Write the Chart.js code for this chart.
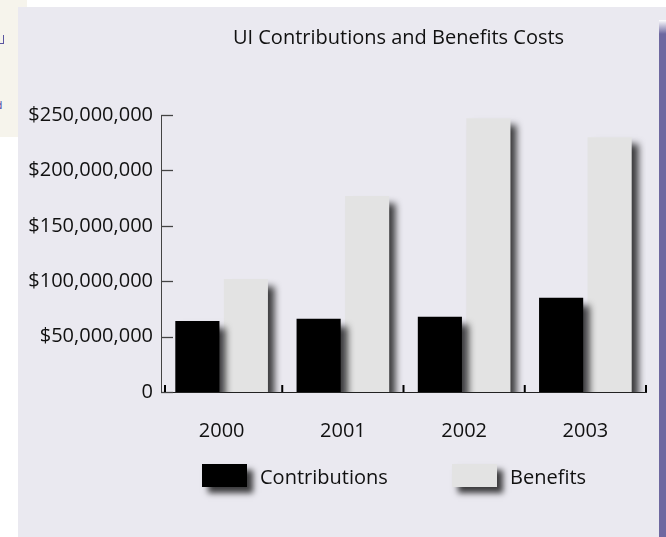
<!DOCTYPE html>
<html>
<head>
<meta charset="utf-8">
<script src="https://cdn.jsdelivr.net/npm/chart.js@4"></script>
<style>
  html, body { margin: 0; padding: 0; background: #ffffff; width: 666px; height: 537px; overflow: hidden; position: relative; }
  #cream { position: absolute; left: 0; top: 0; width: 27px; height: 137px; background: #f6f4ec; }
  #mark1 { position: absolute; left: -1px; top: 35px; width: 4px; height: 8px; border-right: 1px solid #5a55a0; border-bottom: 1px solid #5a55a0; }
  #mark2 { position: absolute; left: -4px; top: 100px; font: 10px "DejaVu Sans", sans-serif; color: #4a46a8; }
  #panel { position: absolute; left: 18px; top: 7px; width: 648px; height: 530px; background: #eae9f0; }
  #strip { position: absolute; left: 659px; top: 20px; width: 7px; height: 517px; background: linear-gradient(#ffffff, #6e68a0 14px, #6e68a0); }
  #wrap { position: absolute; left: 18px; top: 7px; width: 641px; height: 530px; }
</style>
</head>
<body>
<div id="cream"></div>
<div id="mark1"></div>
<div id="mark2">d</div>
<div id="panel"></div>
<div id="strip"></div>
<div id="wrap"><canvas id="chart" width="641" height="530"></canvas></div>
<script>
(function() {
  'use strict';

  // Data
  const years = ['2000', '2001', '2002', '2003'];
  const contributions = [64000000, 66000000, 68000000, 85000000];
  const benefits = [102000000, 177000000, 247000000, 230000000];
  const yTicks = [0, 50000000, 100000000, 150000000, 200000000, 250000000];
  const chartTitle = 'UI Contributions and Benefits Costs';

  const FONT = '"Open Sans", "Noto Sans", sans-serif';
  const TEXT = '#111111';

  /**
   * Drop shadow under every bar, plus inward ticks drawn before the bars
   */
  const shadowPlugin = {
    id: 'barShadow',
    beforeDatasetsDraw(chart) {
      const ctx = chart.ctx;
      const x = chart.scales.x;
      const y = chart.scales.y;
      const area = chart.chartArea;

      // y ticks pointing into the plot
      ctx.save();
      ctx.strokeStyle = '#444444';
      ctx.lineWidth = 1.3;
      yTicks.forEach(function(v) {
        const py = Math.round(y.getPixelForValue(v)) + 0.5;
        ctx.beginPath();
        ctx.moveTo(area.left, py);
        ctx.lineTo(area.left + 12, py);
        ctx.stroke();
      });

      // small upward ticks at category boundaries
      ctx.strokeStyle = '#000000';
      ctx.lineWidth = 2;
      for (let i = 0; i <= years.length; i++) {
        let px;
        if (i === 0) px = area.left + 4;
        else if (i === years.length) px = area.right;
        else px = (x.getPixelForValue(i - 1) + x.getPixelForValue(i)) / 2;
        ctx.beginPath();
        ctx.moveTo(px, area.bottom);
        ctx.lineTo(px, area.bottom - 7);
        ctx.stroke();
      }
      ctx.restore();

      ctx.save();
      ctx.shadowColor = 'rgba(0, 0, 0, 0.75)';
      ctx.shadowOffsetX = 7;
      ctx.shadowOffsetY = 7;
      ctx.shadowBlur = 7;
    },
    afterDatasetsDraw(chart) {
      chart.ctx.restore();
    }
  };

  /**
   * Title centred over the plot, legend below the axis with shadowed swatches
   */
  const textPlugin = {
    id: 'titleLegend',
    afterDraw(chart) {
      const ctx = chart.ctx;
      const area = chart.chartArea;
      ctx.save();
      ctx.fillStyle = TEXT;
      ctx.font = '20px ' + FONT;
      ctx.textAlign = 'center';
      ctx.textBaseline = 'middle';
      ctx.fillText(chartTitle, (area.left + area.right) / 2 - 5, 31);

      const top = area.bottom + 72;
      const offsets = [41, 291];
      chart.data.datasets.forEach(function(ds, i) {
        const bx = area.left + offsets[i];
        ctx.save();
        ctx.shadowColor = 'rgba(0, 0, 0, 0.75)';
        ctx.shadowOffsetX = 6;
        ctx.shadowOffsetY = 6;
        ctx.shadowBlur = 6;
        ctx.fillStyle = ds.backgroundColor;
        ctx.fillRect(bx, top, 45, 23);
        ctx.restore();
        ctx.fillStyle = TEXT;
        ctx.font = '20px ' + FONT;
        ctx.textBaseline = 'middle';
        ctx.textAlign = 'left';
        ctx.fillText(ds.label, bx + 58, top + 14);
      });
      ctx.restore();
    }
  };

  function initializeChart() {
    const ctx = document.getElementById('chart');

    new Chart(ctx, {
      type: 'bar',
      data: {
        labels: years,
        datasets: [
          {
            label: 'Contributions',
            data: contributions,
            backgroundColor: '#000000',
            categoryPercentage: 0.8,
            barPercentage: 0.91
          },
          {
            label: 'Benefits',
            data: benefits,
            backgroundColor: '#e3e3e3',
            categoryPercentage: 0.8,
            barPercentage: 0.91
          }
        ]
      },
      options: {
        responsive: false,
        animation: false,
        layout: { padding: { left: 0, right: 13, top: 108, bottom: 0 } },
        plugins: {
          legend: { display: false },
          tooltip: { enabled: false },
          title: { display: false }
        },
        scales: {
          x: {
            offset: true,
            grid: { display: false, drawTicks: false },
            border: { display: true, color: '#222222', width: 1 },
            ticks: { color: TEXT, font: { family: FONT, size: 20 }, padding: 27 },
            afterFit(scale) { scale.height = 145; }
          },
          y: {
            min: 0,
            max: 250000000,
            afterBuildTicks(scale) {
              scale.ticks = yTicks.map(function(v) { return { value: v }; });
            },
            grid: { display: false, drawTicks: false },
            border: { display: true, color: '#444444', width: 1 },
            ticks: {
              color: TEXT,
              font: { family: FONT, size: 20 },
              padding: 8,
              callback(v) { return v === 0 ? '0' : '$' + v.toLocaleString('en-US'); }
            },
            afterFit(scale) { scale.width = 143; }
          }
        }
      },
      plugins: [shadowPlugin, textPlugin]
    });
  }

  if (document.readyState === 'loading') {
    document.addEventListener('DOMContentLoaded', initializeChart);
  } else {
    initializeChart();
  }
})();
</script>
</body>
</html>
